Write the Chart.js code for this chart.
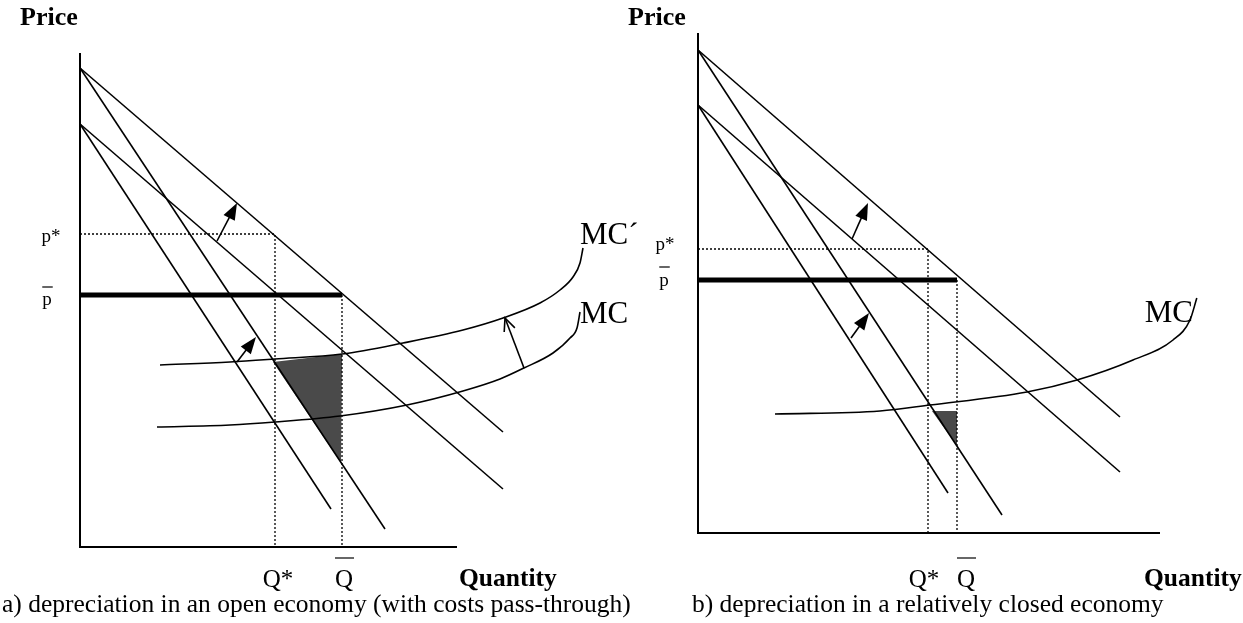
<!DOCTYPE html>
<html>
<head>
<meta charset="utf-8">
<script src="https://cdn.jsdelivr.net/npm/chart.js@4.4.1/dist/chart.umd.min.js"></script>
<style>
  body { margin: 0; background: #fff; }
  #wrap { position: relative; width: 1243px; height: 623px; overflow: hidden; }
  #panelA { position: absolute; left: 0; top: 0; }
  #panelB { position: absolute; left: 620px; top: 0; }
</style>
</head>
<body>
<div id="wrap">
  <canvas id="panelA" width="660" height="623"></canvas>
  <canvas id="panelB" width="623" height="623"></canvas>
</div>
<script>
// ---- panel a: open economy (with cost pass-through) ----
var aAxisTop = 123.5, aAxisEnd = 94.25;
var aDemand1 = [[0, 119.75], [105.75, 28.75]];   // high intercept, flat
var aDemand2 = [[0, 119.75], [76.25, 4.5]];      // high intercept, steep
var aDemand3 = [[0, 105.75], [105.75, 14.5]];    // low intercept, flat
var aDemand4 = [[0, 105.75], [62.75, 9.5]];      // low intercept, steep
var aPStar = 78.25, aPBar = 63, aQStar = 48.75, aQBar = 65.5;
var aMC = [[19.25, 30], [37.5, 30.5], [48.75, 31.25], [65, 32.75], [81.75, 35.5], [95.75, 39],
           [105, 42], [111, 44.75], [118.25, 48.5], [122.5, 52.25], [124.25, 54.75], [125, 58.75]];
var aMCshift = [[20, 45.5], [37.5, 46.25], [48.75, 47], [65.5, 48.25], [80.75, 51], [95.75, 54.25],
                [105.75, 57.25], [115, 61], [120, 64.25], [123.25, 67.5], [125, 71], [125.75, 74.75]];
var aLoss = [[48.25, 46.25], [65.5, 48.25], [65.25, 21]];
var aArrowUpper = [[34.25, 76.5], [39.25, 86]];
var aArrowLower = [[39.25, 46.25], [44, 52.5]];
var aArrowMC = [[111, 44.75], [106.25, 57.25]];

// ---- panel b: relatively closed economy ----
var bAxisTop = 125, bAxisEnd = 115.5;
var bDemand1 = [[0, 120.75], [105.5, 29]];
var bDemand2 = [[0, 120.75], [76, 4.5]];
var bDemand3 = [[0, 107], [105.5, 15.25]];
var bDemand4 = [[0, 107], [62.5, 10]];
var bPStar = 71, bPBar = 63.25, bQStar = 57.5, bQBar = 64.75;
var bMC = [[19.25, 29.75], [45.5, 30.5], [58, 32], [82.25, 35.25], [94.75, 38.25],
           [108.75, 43.25], [118.75, 48.25], [123, 53.25], [124.7, 58.75]];
var bLoss = [[58.5, 30.5], [64.75, 30.5], [64.75, 21.75]];
var bArrowUpper = [[38.5, 73.5], [42.5, 82.5]];
var bArrowLower = [[38.25, 48.75], [42.75, 55]];

var serif = '"Liberation Serif", "Times New Roman", serif';

function pts(arr) {
  return arr.map(function (p) { return { x: p[0], y: p[1] }; });
}

function line(data, opts) {
  var ds = {
    data: pts(data), showLine: true, pointRadius: 0, borderColor: '#000',
    borderWidth: 1.6, fill: false, tension: 0
  };
  for (var k in opts) ds[k] = opts[k];
  return ds;
}

function arrow(ctx, xs, ys, p, q, filled) {
  var x0 = xs.getPixelForValue(p[0]), y0 = ys.getPixelForValue(p[1]);
  var x1 = xs.getPixelForValue(q[0]), y1 = ys.getPixelForValue(q[1]);
  var a = Math.atan2(y1 - y0, x1 - x0);
  var len = filled ? 18 : 14, half = filled ? 0.36 : 0.42;
  ctx.save();
  ctx.strokeStyle = '#000';
  ctx.fillStyle = '#000';
  ctx.lineWidth = 1.6;
  ctx.beginPath();
  ctx.moveTo(x0, y0);
  ctx.lineTo(filled ? x1 - Math.cos(a) * len * 0.8 : x1, filled ? y1 - Math.sin(a) * len * 0.8 : y1);
  ctx.stroke();
  ctx.beginPath();
  ctx.moveTo(x1 - Math.cos(a - half) * len, y1 - Math.sin(a - half) * len);
  ctx.lineTo(x1, y1);
  ctx.lineTo(x1 - Math.cos(a + half) * len, y1 - Math.sin(a + half) * len);
  if (filled) { ctx.closePath(); ctx.fill(); } else { ctx.stroke(); }
  ctx.restore();
}

function text(ctx, s, x, y, font, align) {
  ctx.save();
  ctx.font = font;
  ctx.fillStyle = '#000';
  ctx.textAlign = align || 'left';
  ctx.textBaseline = 'alphabetic';
  ctx.fillText(s, x, y);
  ctx.restore();
}

function barText(ctx, s, cx, y, barY, font) {
  text(ctx, s, cx, y, font, 'center');
  ctx.save();
  ctx.font = font;
  var w = ctx.measureText(s).width;
  ctx.strokeStyle = '#000';
  ctx.lineWidth = 1.2;
  ctx.beginPath();
  ctx.moveTo(cx - w / 2, barY);
  ctx.lineTo(cx + w / 2 + 1, barY);
  ctx.stroke();
  ctx.restore();
}

function makePanel(id, range, d, lab) {
  var datasets = [
    line([[0, d.axisTop], [0, 0], [d.axisEnd, 0]], { borderWidth: 2 }),
    line([[0, d.pStar], [d.qStar, d.pStar], [d.qStar, 0]], { borderWidth: 1.3, borderDash: [2, 2] }),
    line([[d.qBar, d.pBar], [d.qBar, 0]], { borderWidth: 1.3, borderDash: [2, 2] }),
    line(d.demand[0]), line(d.demand[1]), line(d.demand[2]), line(d.demand[3]),
    line([[0, d.pBar], [d.qBar, d.pBar]], { borderWidth: 5 })
  ];
  d.mc.forEach(function (c) { datasets.push(line(c, { cubicInterpolationMode: 'monotone' })); });

  var shapes = {
    id: 'shapes',
    beforeDatasetsDraw: function (chart) {
      var ctx = chart.ctx, xs = chart.scales.x, ys = chart.scales.y;
      ctx.save();
      ctx.fillStyle = '#4a4a4a';
      ctx.beginPath();
      d.loss.forEach(function (p, i) {
        var px = xs.getPixelForValue(p[0]), py = ys.getPixelForValue(p[1]);
        if (i === 0) ctx.moveTo(px, py); else ctx.lineTo(px, py);
      });
      ctx.closePath();
      ctx.fill();
      ctx.restore();
    },
    afterDatasetsDraw: function (chart) {
      var ctx = chart.ctx, xs = chart.scales.x, ys = chart.scales.y;
      d.arrows.forEach(function (a) { arrow(ctx, xs, ys, a[0], a[1], true); });
      if (d.openArrow) arrow(ctx, xs, ys, d.openArrow[0], d.openArrow[1], false);

      var x0 = xs.getPixelForValue(0);
      var yStar = ys.getPixelForValue(d.pStar), yBar = ys.getPixelForValue(d.pBar);
      var xStar = xs.getPixelForValue(d.qStar), xBar = xs.getPixelForValue(d.qBar);
      var pFont = '19px ' + serif, qFont = '25px ' + serif;
      text(ctx, 'Price', lab.priceX, 25, 'bold 26px ' + serif);
      text(ctx, 'p*', x0 + lab.pStarDx, yStar + lab.pStarDy, pFont, 'center');
      barText(ctx, 'p', x0 + lab.pBarDx, yBar + lab.pBarDy, yBar + lab.pBarBarDy, pFont);
      text(ctx, 'Q*', xStar + lab.qStarDx, 587, qFont, 'center');
      barText(ctx, 'Q', xBar + lab.qBarDx, 587, 558, qFont);
      text(ctx, 'Quantity', lab.quantityX, 586, 'bold 25.5px ' + serif);
      lab.mcLabels.forEach(function (m) {
        var last = m.curve[m.curve.length - 1];
        text(ctx, m.text, xs.getPixelForValue(last[0]) + m.dx, ys.getPixelForValue(last[1]) + m.dy, '31px ' + serif);
      });
      text(ctx, lab.caption, lab.captionX, 612, '25.5px ' + serif);
    }
  };

  return new Chart(document.getElementById(id), {
    type: 'scatter',
    data: { datasets: datasets },
    options: {
      responsive: false,
      animation: false,
      layout: { padding: 0 },
      plugins: { legend: { display: false }, tooltip: { enabled: false } },
      scales: {
        x: { type: 'linear', min: range[0], max: range[1], display: false },
        y: { type: 'linear', min: range[2], max: range[3], display: false }
      }
    },
    plugins: [shapes]
  });
}

makePanel('panelA', [-20, 145, -19, 136.75], {
  axisTop: aAxisTop, axisEnd: aAxisEnd,
  demand: [aDemand1, aDemand2, aDemand3, aDemand4],
  pStar: aPStar, pBar: aPBar, qStar: aQStar, qBar: aQBar,
  mc: [aMC, aMCshift], loss: aLoss,
  arrows: [aArrowUpper, aArrowLower], openArrow: aArrowMC
}, {
  priceX: 20, pStarDx: -29, pStarDy: 8, pBarDx: -33, pBarDy: 10, pBarBarDy: -8,
  qStarDx: 3, qBarDx: 2, quantityX: 459, captionX: 2,
  caption: 'a) depreciation in an open economy (with costs pass-through)',
  mcLabels: [{ text: 'MC\u00B4', curve: aMCshift, dx: -3, dy: -4 }, { text: 'MC', curve: aMC, dx: 0, dy: 11 }]
});

makePanel('panelB', [-19.5, 136.25, -22.5, 133.25], {
  axisTop: bAxisTop, axisEnd: bAxisEnd,
  demand: [bDemand1, bDemand2, bDemand3, bDemand4],
  pStar: bPStar, pBar: bPBar, qStar: bQStar, qBar: bQBar,
  mc: [bMC], loss: bLoss,
  arrows: [bArrowUpper, bArrowLower], openArrow: null
}, {
  priceX: 8, pStarDx: -33, pStarDy: 1, pBarDx: -34, pBarDy: 6, pBarBarDy: -13,
  qStarDx: -4, qBarDx: 9, quantityX: 524, captionX: 72,
  caption: 'b) depreciation in a relatively closed economy',
  mcLabels: [{ text: 'MC', curve: bMC, dx: -52, dy: 24 }]
});
</script>
</body>
</html>
